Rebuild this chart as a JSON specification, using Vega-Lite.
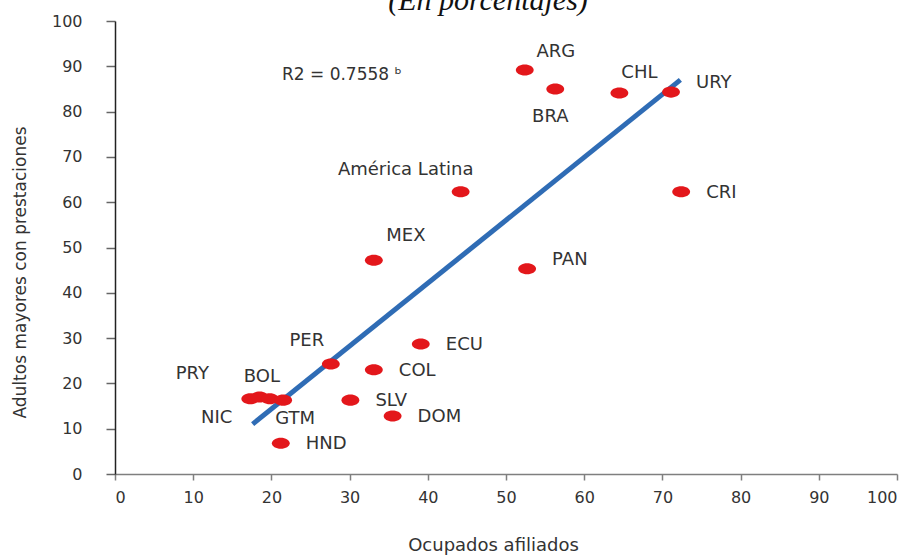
{
  "$schema": "https://vega.github.io/schema/vega-lite/v6.json",
  "autosize": {"type": "none"},
  "padding": {"left": 115, "top": 21, "right": 23, "bottom": 82},
  "width": 782,
  "height": 453,
  "background": "white",
  "title": {"text": "(En porcentajes)", "font": "Liberation Serif", "fontStyle": "italic", "fontWeight": "normal", "fontSize": 30, "color": "#111", "frame": "group", "anchor": "middle", "baseline": "alphabetic", "offset": -27, "dx": -18},
  "config": {"view": {"stroke": null}},
  "datasets": {
    "pts": [
      {"pais": "ARG", "x": 52.4, "y": 89.2},
      {"pais": "BRA", "x": 56.3, "y": 85.0},
      {"pais": "CHL", "x": 64.5, "y": 84.1},
      {"pais": "URY", "x": 71.1, "y": 84.3},
      {"pais": "América Latina", "x": 44.2, "y": 62.3},
      {"pais": "CRI", "x": 72.4, "y": 62.3},
      {"pais": "MEX", "x": 33.1, "y": 47.2},
      {"pais": "PAN", "x": 52.7, "y": 45.3},
      {"pais": "PER", "x": 27.6, "y": 24.3},
      {"pais": "ECU", "x": 39.1, "y": 28.7},
      {"pais": "COL", "x": 33.1, "y": 23.0},
      {"pais": "SLV", "x": 30.1, "y": 16.3},
      {"pais": "DOM", "x": 35.5, "y": 12.8},
      {"pais": "HND", "x": 21.2, "y": 6.8},
      {"pais": "PRY", "x": 17.3, "y": 16.6},
      {"pais": "NIC", "x": 18.5, "y": 17.0},
      {"pais": "BOL", "x": 19.8, "y": 16.6},
      {"pais": "GTM", "x": 21.5, "y": 16.3}
    ],
    "reg": [
      {"x": 17.6, "y": 11.0},
      {"x": 72.3, "y": 87.0}
    ],
    "r2": [
      {"x": 21.35, "y": 88.1, "t": "R2 = 0.7558 ᵇ"}
    ]
  },
  "data": {"name": "pts"},
  "encoding": {
    "x": {"field": "x", "type": "quantitative",
      "scale": {"domain": [0, 100], "nice": false, "zero": true},
      "axis": {"title": "Ocupados afiliados", "values": [0,10,20,30,40,50,60,70,80,90,100], "grid": false,
        "domainColor": "#7f7f7f", "domainWidth": 1.5, "tickColor": "#7f7f7f", "tickWidth": 1.5, "tickSize": 6,
        "labelFont": "DejaVu Sans", "labelFontSize": 16, "labelColor": "#333333", "labelPadding": 9,
        "titleFont": "DejaVu Sans", "titleFontSize": 18, "titleFontWeight": "normal", "titleColor": "#333333",
        "titleX": 378, "titleY": 71, "titleBaseline": "middle", "titleAnchor": null}},
    "y": {"field": "y", "type": "quantitative",
      "scale": {"domain": [0, 100], "nice": false, "zero": true},
      "axis": {"title": "Adultos mayores con prestaciones", "values": [0,10,20,30,40,50,60,70,80,90,100], "grid": false,
        "domainColor": "#222222", "domainWidth": 1.5, "tickColor": "#666666", "tickWidth": 1.5, "tickSize": 9,
        "labelFont": "DejaVu Sans", "labelFontSize": 16, "labelColor": "#333333", "labelPadding": 24,
        "titleFont": "DejaVu Sans", "titleFontSize": 17, "titleFontWeight": "normal", "titleColor": "#333333",
        "titleX": -95, "titleY": 251, "titleAngle": 270, "titleAlign": "center", "titleBaseline": "middle"}}
  },
  "layer": [
    {"data": {"name": "reg"}, "mark": {"type": "line", "color": "#2f6cb5", "strokeWidth": 5, "strokeCap": "butt"}, "encoding": {}},
    {"mark": {"type": "point", "shape": "M -1 0 A 1 0.62 0 1 0 1 0 A 1 0.62 0 1 0 -1 0 Z", "size": 320, "filled": true, "color": "#e3171b", "opacity": 1}, "encoding": {}},
    {"data": {"name": "r2"}, "mark": {"type": "text", "align": "left", "baseline": "middle", "font": "DejaVu Sans", "fontSize": 17, "color": "#333333"}, "encoding": {"text": {"field": "t"}}},
    {"transform": [{"filter": {"field": "pais", "oneOf": ["CRI", "ECU", "COL", "SLV", "DOM", "HND"]}}], "mark": {"type": "text", "align": "left", "baseline": "middle", "dx": 25, "dy": 1, "font": "DejaVu Sans", "fontSize": 18, "color": "#333333"}, "encoding": {"text": {"field": "pais"}}},
    {"transform": [{"filter": {"field": "pais", "oneOf": ["URY", "PAN"]}}], "mark": {"type": "text", "align": "left", "baseline": "middle", "dx": 25, "dy": -9, "font": "DejaVu Sans", "fontSize": 18, "color": "#333333"}, "encoding": {"text": {"field": "pais"}}},
    {"transform": [{"filter": {"field": "pais", "equal": "ARG"}}], "mark": {"type": "text", "align": "center", "baseline": "middle", "dx": 31, "dy": -18, "font": "DejaVu Sans", "fontSize": 18, "color": "#333333"}, "encoding": {"text": {"field": "pais"}}},
    {"transform": [{"filter": {"field": "pais", "equal": "BRA"}}], "mark": {"type": "text", "align": "center", "baseline": "middle", "dx": -5, "dy": 28, "font": "DejaVu Sans", "fontSize": 18, "color": "#333333"}, "encoding": {"text": {"field": "pais"}}},
    {"transform": [{"filter": {"field": "pais", "equal": "CHL"}}], "mark": {"type": "text", "align": "center", "baseline": "middle", "dx": 20, "dy": -20, "font": "DejaVu Sans", "fontSize": 18, "color": "#333333"}, "encoding": {"text": {"field": "pais"}}},
    {"transform": [{"filter": {"field": "pais", "equal": "América Latina"}}], "mark": {"type": "text", "align": "center", "baseline": "middle", "dx": -55, "dy": -22, "font": "DejaVu Sans", "fontSize": 18, "color": "#333333"}, "encoding": {"text": {"field": "pais"}}},
    {"transform": [{"filter": {"field": "pais", "equal": "MEX"}}], "mark": {"type": "text", "align": "center", "baseline": "middle", "dx": 32, "dy": -24, "font": "DejaVu Sans", "fontSize": 18, "color": "#333333"}, "encoding": {"text": {"field": "pais"}}},
    {"transform": [{"filter": {"field": "pais", "equal": "PER"}}], "mark": {"type": "text", "align": "center", "baseline": "middle", "dx": -24, "dy": -23, "font": "DejaVu Sans", "fontSize": 18, "color": "#333333"}, "encoding": {"text": {"field": "pais"}}},
    {"transform": [{"filter": {"field": "pais", "equal": "PRY"}}], "mark": {"type": "text", "align": "center", "baseline": "middle", "dx": -58, "dy": -25, "font": "DejaVu Sans", "fontSize": 18, "color": "#333333"}, "encoding": {"text": {"field": "pais"}}},
    {"transform": [{"filter": {"field": "pais", "equal": "BOL"}}], "mark": {"type": "text", "align": "center", "baseline": "middle", "dx": -8, "dy": -22, "font": "DejaVu Sans", "fontSize": 18, "color": "#333333"}, "encoding": {"text": {"field": "pais"}}},
    {"transform": [{"filter": {"field": "pais", "equal": "NIC"}}], "mark": {"type": "text", "align": "center", "baseline": "middle", "dx": -43, "dy": 21, "font": "DejaVu Sans", "fontSize": 18, "color": "#333333"}, "encoding": {"text": {"field": "pais"}}},
    {"transform": [{"filter": {"field": "pais", "equal": "GTM"}}], "mark": {"type": "text", "align": "center", "baseline": "middle", "dx": 12, "dy": 19, "font": "DejaVu Sans", "fontSize": 18, "color": "#333333"}, "encoding": {"text": {"field": "pais"}}}
  ]
}
